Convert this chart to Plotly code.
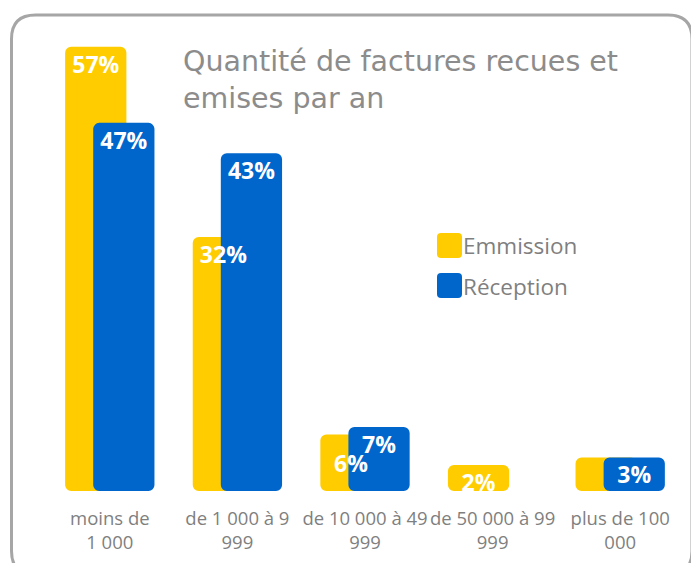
import plotly.graph_objects as go

# ---- data ----
categories = ["moins de<br>1 000", "de 1 000 à 9<br>999", "de 10 000 à 49<br>999",
              "de 50 000 à 99<br>999", "plus de 100<br>000"]
emission = [57, 32, 6, 2, 3]
reception = [47, 43, 7, None, 3]
emission_labels = ["57%", "32%", "6%", "2%", ""]
reception_labels = ["47%", "43%", "7%", "", "3%"]
series_names = ["Emmission", "Réception"]
title_text = "Quantité de factures recues et<br>emises par an"

# ---- style ----
W, H = 691, 563
PLOT_LEFT, PLOT_RIGHT, PLOT_TOP, PLOT_BOTTOM = 46, 684, 40, 491  # px
ML, MR, MT, MB = PLOT_LEFT, W - PLOT_RIGHT, PLOT_TOP, H - PLOT_BOTTOM
YMIN, YMAX = -1.42, 57.9
YELLOW, BLUE, GREY = "#FFCC00", "#0066CC", "#7F7F7F"
BAR_W = 0.48
OFF_E, OFF_R = -0.35, -0.13
# invisible marker sizes that set how far each label sits below its bar top
emission_label_pad = [12, 12, 30, 12, 12]
reception_label_pad = [12, 12, 12, 12, 12]

PW, PH = PLOT_RIGHT - PLOT_LEFT, PLOT_BOTTOM - PLOT_TOP


def px(X):  # pixel -> paper
    return (X - PLOT_LEFT) / PW


def py(Y):
    return (PLOT_BOTTOM - Y) / PH


xs = list(range(len(categories)))

fig = go.Figure()
fig.add_trace(go.Bar(
    x=xs, y=[None if v is None else v - YMIN for v in emission], base=YMIN,
    width=BAR_W, offset=OFF_E, marker=dict(color=YELLOW, line_width=0),
    name=series_names[0], showlegend=False, hoverinfo="skip"))
fig.add_trace(go.Bar(
    x=xs, y=[None if v is None else v - YMIN for v in reception], base=YMIN,
    width=BAR_W, offset=OFF_R, marker=dict(color=BLUE, line_width=0),
    name=series_names[1], showlegend=False, hoverinfo="skip"))

lab_font = dict(family="Open Sans", size=23, color="white", weight="bold")
for offs, vals, labs, pad in [(OFF_E, emission, emission_labels, emission_label_pad),
                              (OFF_R, reception, reception_labels, reception_label_pad)]:
    fig.add_trace(go.Scatter(
        x=[i + offs + BAR_W / 2 for i in xs], y=vals, text=labs,
        mode="markers+text",
        marker=dict(size=pad, color="rgba(0,0,0,0)", opacity=0, line=dict(width=0)),
        textposition="bottom center", textfont=lab_font,
        cliponaxis=True, showlegend=False, hoverinfo="skip"))


def rrect(X0, Y0, X1, Y1, r):
    rx, ry = r / PW, r / PH
    x0, x1 = px(X0), px(X1)
    ytop, ybot = py(Y0), py(Y1)
    return (f"M{x0+rx},{ytop} L{x1-rx},{ytop} Q{x1},{ytop} {x1},{ytop-ry} "
            f"L{x1},{ybot+ry} Q{x1},{ybot} {x1-rx},{ybot} L{x0+rx},{ybot} "
            f"Q{x0},{ybot} {x0},{ybot+ry} L{x0},{ytop-ry} Q{x0},{ytop} {x0+rx},{ytop} Z")


shapes = [
    dict(type="path", xref="paper", yref="paper", path=rrect(11.5, 15, 692, 575, 24),
         line=dict(color="#A6A6A6", width=3), fillcolor="rgba(0,0,0,0)", layer="above"),
    dict(type="path", xref="paper", yref="paper", path=rrect(437, 233, 462, 258, 4),
         line_width=0, fillcolor=YELLOW),
    dict(type="path", xref="paper", yref="paper", path=rrect(437, 273, 462, 298, 4),
         line_width=0, fillcolor=BLUE),
]

annotations = [
    dict(text=title_text, xref="paper", yref="paper", x=px(181), y=py(43),
         xanchor="left", yanchor="top", align="left", showarrow=False,
         font=dict(family="DejaVu Sans", size=28.5, color="#8C8C8C")),
    dict(text=series_names[0], xref="paper", yref="paper", x=px(461), y=py(245),
         xanchor="left", yanchor="middle", showarrow=False,
         font=dict(family="Open Sans", size=22.5, color=GREY)),
    dict(text=series_names[1], xref="paper", yref="paper", x=px(461), y=py(286),
         xanchor="left", yanchor="middle", showarrow=False,
         font=dict(family="Open Sans", size=22.5, color=GREY)),
]

fig.update_layout(
    width=W, height=H, margin=dict(l=ML, r=MR, t=MT, b=MB),
    paper_bgcolor="white", plot_bgcolor="white",
    barmode="overlay", barcornerradius=6, showlegend=False,
    shapes=shapes, annotations=annotations,
    xaxis=dict(range=[-0.5, len(categories) - 0.5], tickvals=xs, ticktext=categories,
               showgrid=False, zeroline=False, showline=False, ticks="",
               ticklabelstandoff=14,
               tickfont=dict(family="Open Sans", size=18.5, color=GREY), fixedrange=True),
    yaxis=dict(range=[YMIN, YMAX], visible=False, fixedrange=True),
)

# page body margin removed so the 691x563 figure fills the window exactly
fig.write_html("out.html", config={"displayModeBar": False, "staticPlot": True},
               post_script="document.body.style.margin='0';"
                           "document.body.style.overflow='hidden';")
